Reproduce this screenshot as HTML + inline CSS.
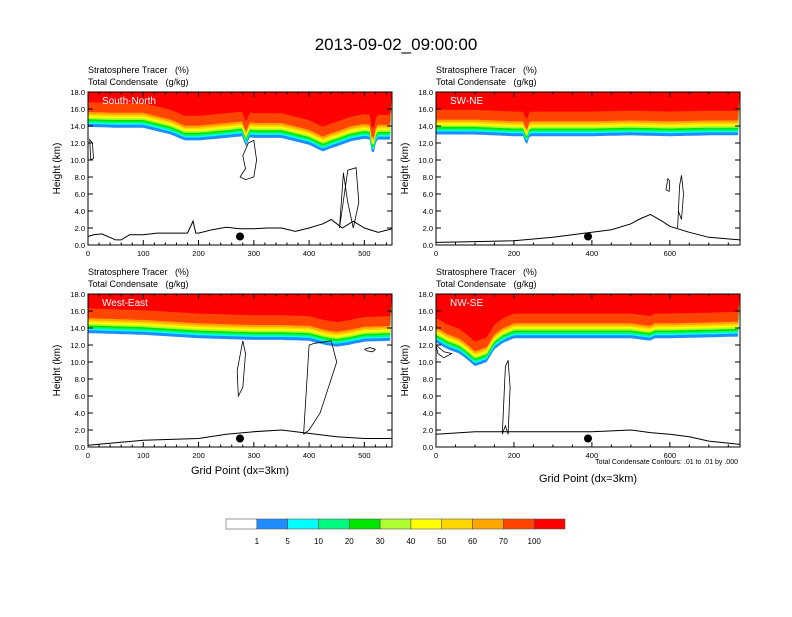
<!DOCTYPE html>
<html><head><meta charset="utf-8"><style>
body{margin:0;background:#fff;}
svg{font-family:"Liberation Sans",Helvetica,sans-serif;}
text{white-space:pre;}
</style></head><body>
<svg id="c" width="792" height="612" viewBox="0 0 792 612">
<text x="396" y="50" font-size="17" text-anchor="middle">2013-09-02_09:00:00</text>
</svg>
<script>
const panelNames=["South-North","SW-NE","West-East","NW-SE"];
const panelXmax=[550,780,550,780];
const baseX=[[0,50,100,150,175,200,250,280,285,292,300,350,400,425,440,450,475,500,510,515,522,550],
[0,50,100,150,200,225,232,240,300,400,500,600,700,780],
[0,100,200,300,350,400,430,450,470,500,550],
[0,30,60,80,100,130,150,170,200,300,400,500,550,560,600,700,780]];
const baseH=[[13.9,13.8,13.8,13.0,12.3,12.3,12.6,12.8,11.4,12.7,12.6,12.6,11.8,11.0,11.4,11.6,12.2,12.5,12.4,10.3,12.4,12.4],
[13.0,13.0,13.0,12.9,12.8,12.8,11.6,12.8,12.8,12.8,12.9,12.8,12.9,12.9],
[13.4,13.2,12.8,12.6,12.6,12.5,12.0,11.8,12.0,12.4,12.5],
[12.3,11.5,11.0,10.3,9.5,10.0,11.5,12.2,12.8,12.8,12.8,12.8,12.5,12.8,12.8,12.9,13.0]];
const terrX=[[0,10,25,50,60,75,100,125,150,180,190,195,200,225,250,275,300,325,350,375,400,425,440,460,480,500,525,550],
[0,100,200,300,350,400,450,500,520,550,580,600,650,700,780],
[0,50,100,150,200,250,300,350,400,450,500,550],
[0,100,200,300,400,500,550,600,650,700,780]];
const terrH=[[1.0,1.2,1.3,0.6,0.6,1.2,1.2,1.4,1.4,1.4,2.8,1.4,1.4,1.8,2.1,1.9,1.9,2.0,2.0,1.6,2.0,2.5,3.0,2.0,2.8,2.0,1.5,1.9],
[0.3,0.4,0.5,0.9,1.2,1.5,1.8,2.5,3.0,3.6,2.8,2.2,1.5,0.9,0.6],
[0.2,0.5,0.8,0.9,1.0,1.5,1.8,2.0,1.6,1.2,1.0,1.0],
[1.5,1.8,1.8,1.8,1.8,2.0,1.7,1.5,1.2,0.7,0.3]];
const contourX=[[[275,285,280,290,300,305,300,285,275],[455,470,485,490,480,470,462,455],[5,10,8,3,5]],
[[590,595,600,598,590],[620,625,630,635,630,622,620]],
[[270,280,285,280,272,270],[390,400,410,440,450,420,400,390],[500,510,520,515,505,500]],
[[170,178,185,190,185,178,170],[0,20,40,20,5,0]]];
const contourH=[[[8,9,10.5,12,12.3,10,8,7.7,8],[2,8.8,9.1,5,2,5,8.5,2],[10,10.2,12,12.4,10]],
[[6.5,7.8,7.5,6.3,6.5],[2,7,8.2,6,3,4,2]],
[[9,12.5,11,7,6,9],[1.5,12,12.2,12.5,10,4,2,1.5],[11.5,11.7,11.5,11.2,11.3,11.5]],
[[1.5,9.5,10.2,7,1.5,2.5,1.5],[12,11.2,11,10.5,11,12]]];
const dotX=[275,390,275,390];
const bandOffsets=[0,0.35,0.5,0.7,0.9,1.1,1.3,1.5,1.75,2.9];
const bandColors=["#1e8cff","#00ffff","#00fa80","#00e600","#adff2f","#ffff00","#ffd700","#ffa500","#ff4500","#ff0000"];
const cbLabels=["1","5","10","20","30","40","50","60","70","100"];
const cbColors=["#ffffff","#1e8cff","#00ffff","#00fa80","#00e600","#adff2f","#ffff00","#ffd700","#ffa500","#ff4500","#ff0000"];
const yTicks=[0,2,4,6,8,10,12,14,16,18];

const NS="http://www.w3.org/2000/svg";
const svg=document.getElementById('c');
function mk(t,a,p){const e=document.createElementNS(NS,t);for(const k in a)e.setAttribute(k,a[k]);(p||svg).appendChild(e);return e;}
function interp(xs,hs,x){for(let i=0;i<xs.length-1;i++){if(x<=xs[i+1]){const f=(x-xs[i])/(xs[i+1]-xs[i]);return hs[i]+f*(hs[i+1]-hs[i]);}}return hs[hs.length-1];}
const pos=[[88,92],[436,92],[88,294],[436,294]];
const W=304,H=153;
pos.forEach((p,i)=>{
  const g=mk('g',{});
  
  
  const x0=p[0],y0=p[1],xm=panelXmax[i];
  const sx=v=>x0+v/xm*W, sy=v=>y0+H-v/18*H;
  const cp=mk('clipPath',{id:'cl'+i},g);
  mk('rect',{x:x0,y:y0,width:W,height:H},cp);
  const inner=mk('g',{'clip-path':'url(#cl'+i+')'},g);
  bandOffsets.forEach((o,b)=>{
    let pts=[];
    for(let gx=0;gx<=xm;gx+=xm/150){let h=interp(baseX[i],baseH[i],gx)+o;pts.push(sx(gx).toFixed(1)+','+sy(h).toFixed(1));}
    pts.push(sx(xm)+','+y0,sx(0)+','+y0);
    const pl=mk('polygon',{points:pts.join(' '),fill:bandColors[b]},inner);
    
    
  });
  contourX[i].forEach((cx,k)=>{
    const pts=cx.map((x,j)=>sx(x).toFixed(1)+','+sy(contourH[i][k][j]).toFixed(1)).join(' ');
    const c=mk('polyline',{points:pts,fill:'none',stroke:'#000','stroke-width':0.8},inner);
    
    
  });
  let tp=terrX[i].map((x,k)=>sx(x).toFixed(1)+','+sy(terrH[i][k]).toFixed(1)).join(' ');
  const tl=mk('polyline',{points:tp,fill:'none',stroke:'#000','stroke-width':1},inner);
  
  
  const d=mk('circle',{cx:sx(dotX[i]),cy:sy(1),r:4,fill:'#000'},g);
  
  
  mk('rect',{x:x0,y:y0,width:W,height:H,fill:'none',stroke:'#000','stroke-width':1},g);
  const lb=mk('text',{x:x0+14,y:y0+12,'font-size':10,fill:'#fff'},g);lb.textContent=panelNames[i];
  
  
  const t1=mk('text',{x:x0,y:y0-19,'font-size':9},g);t1.textContent='Stratosphere Tracer   (%)';
  const t2=mk('text',{x:x0,y:y0-7,'font-size':9},g);t2.textContent='Total Condensate   (g/kg)';
  yTicks.forEach(v=>{
    mk('line',{x1:x0,x2:x0+5,y1:sy(v),y2:sy(v),stroke:'#000'},g);
    mk('line',{x1:x0+W,x2:x0+W-5,y1:sy(v),y2:sy(v),stroke:'#000'},g);
    const t=mk('text',{x:x0-3,y:sy(v)+3,'font-size':7.5,'text-anchor':'end'},g);t.textContent=v.toFixed(1);
  });
  const step=xm>600?200:100,minor=xm>600?50:20;
  for(let v=0;v<=xm;v+=minor){const big=v%step===0;
    mk('line',{x1:sx(v),x2:sx(v),y1:y0+H,y2:y0+H-(big?5:2.5),stroke:'#000'},g);
    mk('line',{x1:sx(v),x2:sx(v),y1:y0,y2:y0+(big?5:2.5),stroke:'#000'},g);
    if(big){const t=mk('text',{x:sx(v),y:y0+H+11,'font-size':7.5,'text-anchor':'middle'},g);t.textContent=v;}}
  const ya=mk('text',{x:0,y:0,'font-size':10,'text-anchor':'middle',transform:`translate(${x0-28},${y0+H/2}) rotate(-90)`},g);ya.textContent='Height (km)';
  
  
});
let t=mk('text',{x:240,y:474,'font-size':11,'text-anchor':'middle'});t.textContent='Grid Point (dx=3km)';

t=mk('text',{x:588,y:482,'font-size':11,'text-anchor':'middle'});t.textContent='Grid Point (dx=3km)';

t=mk('text',{x:738,y:464,'font-size':7,'text-anchor':'end'});t.textContent='Total Condensate Contours: .01 to .01 by .000';

const cbx=226,cbw=339/11;
cbColors.forEach((c,k)=>{const r=mk('rect',{x:cbx+k*cbw,y:519,width:cbw,height:10,fill:c,stroke:'#555','stroke-width':0.6});
});
cbLabels.forEach((l,k)=>{const tt=mk('text',{x:cbx+(k+1)*cbw,y:544,'font-size':8,'text-anchor':'middle'});tt.textContent=l;
});
</script>
</body></html>
